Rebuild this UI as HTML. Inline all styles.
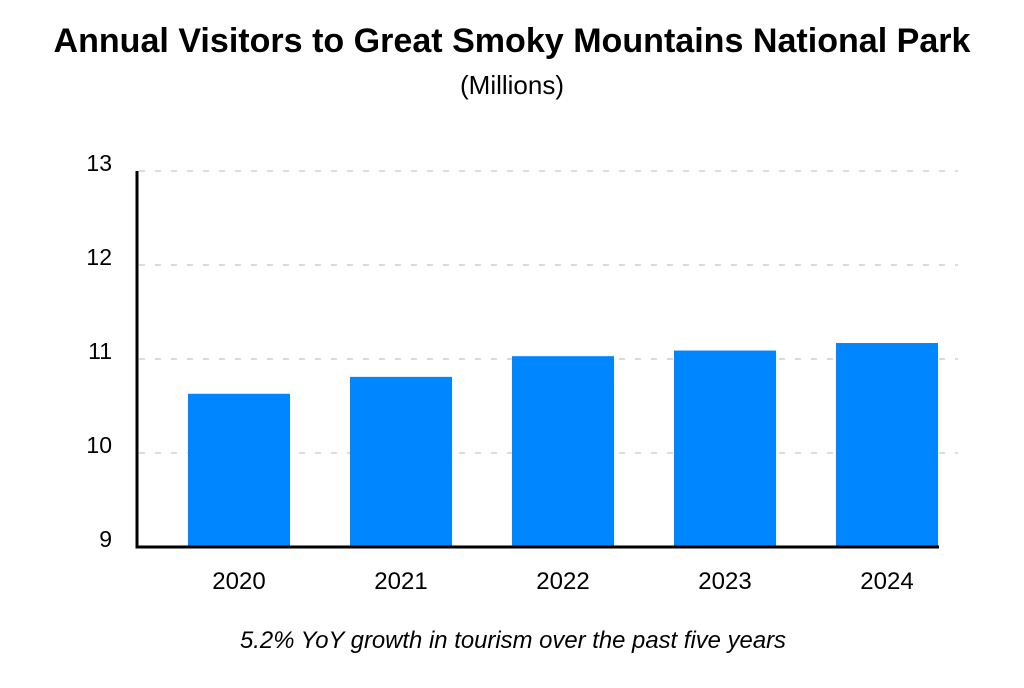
<!DOCTYPE html>
<html><head><meta charset="utf-8"><style>
body{margin:0;background:#fff;width:1024px;height:683px;overflow:hidden;font-family:"Liberation Sans",Arial,sans-serif}
</style></head><body>
<svg width="1024" height="683" xmlns="http://www.w3.org/2000/svg">
<text x="512" y="52" text-anchor="middle" font-size="34" font-weight="bold" fill="#000" textLength="917" lengthAdjust="spacingAndGlyphs">Annual Visitors to Great Smoky Mountains National Park</text>
<text x="512" y="94" text-anchor="middle" font-size="26" fill="#000">(Millions)</text>
<g id="grid"></g><g id="bars"></g><g id="axes"></g>
<text x="513" y="648" text-anchor="middle" font-size="24" font-style="italic" fill="#000" textLength="546" lengthAdjust="spacingAndGlyphs">5.2% YoY growth in tourism over the past five years</text>
</svg>
<script>
const categories=["2020","2021","2022","2023","2024"];
const visitors=[10.63,10.81,11.03,11.09,11.17];
const yTicks=[9,10,11,12,13];
const NS="http://www.w3.org/2000/svg";
const x0=137,x1=958,yMin=9,yMax=13,py0=547,py1=171;
const y=v=>py0-(v-yMin)/(yMax-yMin)*(py0-py1);
const step=162,bw=102,first=188;
const bx=i=>first+i*step;
function mk(t,a,p){const e=document.createElementNS(NS,t);for(const k in a)e.setAttribute(k,a[k]);p.appendChild(e);return e;}
const grid=document.getElementById('grid'),bars=document.getElementById('bars'),axes=document.getElementById('axes');
yTicks.forEach(t=>{
  if(t>yMin){const l=mk('line',{x1:x0+2,x2:x1,y1:y(t),y2:y(t),stroke:'#cfcfcf','stroke-width':1.5,'stroke-dasharray':'6 10'},grid);
  
  }
  const tx=mk('text',{x:112,y:y(t)+0,'text-anchor':'end','font-size':23,fill:'#000'},axes);
  tx.textContent=t;
  
  
});
categories.forEach((c,i)=>{
  const r=mk('rect',{x:bx(i),y:y(visitors[i]),width:bw,height:py0-y(visitors[i]),fill:'#0087ff'},bars);
  
  
  const tx=mk('text',{x:bx(i)+bw/2,y:589,'text-anchor':'middle','font-size':24,fill:'#000'},axes);
  tx.textContent=c;
  
  
});
const ya=mk('line',{x1:x0,x2:x0,y1:py1,y2:py0+1.5,stroke:'#000','stroke-width':3},axes);


const xa=mk('line',{x1:x0-1.5,x2:939,y1:py0,y2:py0,stroke:'#000','stroke-width':3},axes);


</script>
</body></html>
